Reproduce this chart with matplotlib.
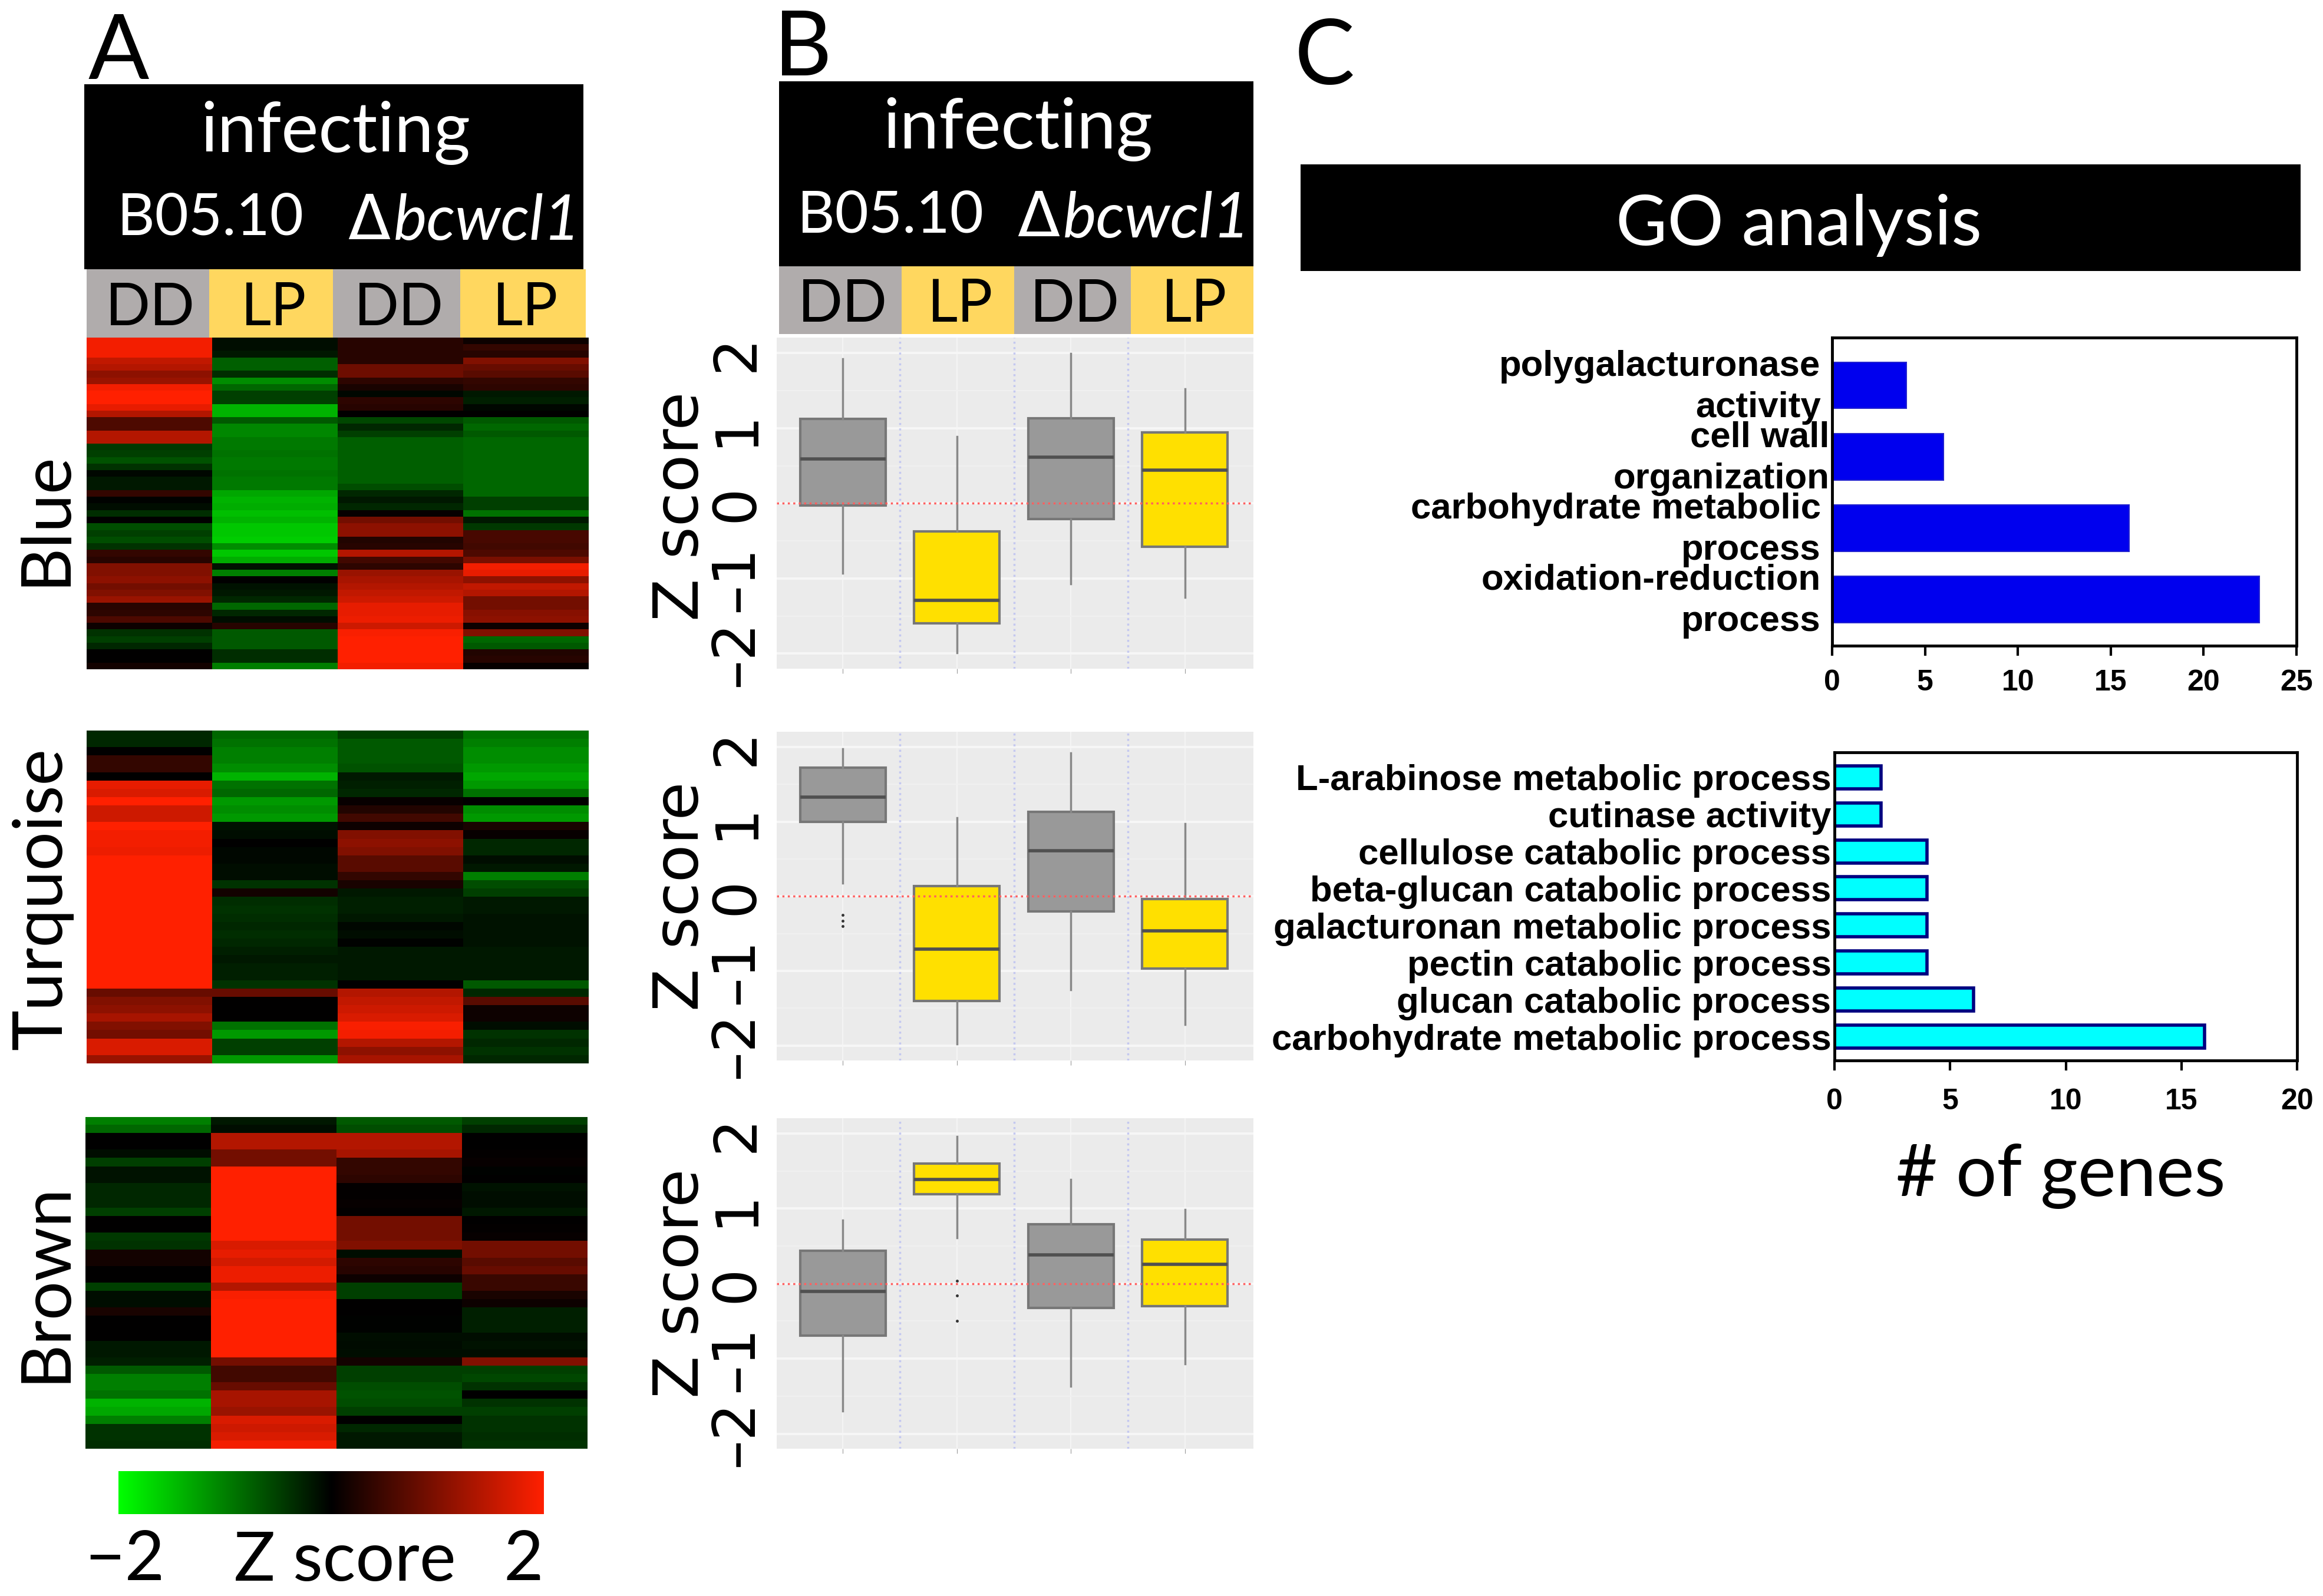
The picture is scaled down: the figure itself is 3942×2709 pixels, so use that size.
import numpy as np
import matplotlib
matplotlib.use('Agg')
import matplotlib.pyplot as plt
from matplotlib.colors import LinearSegmentedColormap
from matplotlib.patches import Rectangle
from matplotlib.transforms import ScaledTranslation

W, H = 3942, 2709

# heatmap rows, top to bottom, one list per column
blue_c1 = [1.9,1.9,1.9,1.5,1.4,1.1,1.2,1.9,2,2,1.8,1.4,.6,.6,1.4,1.4,-.45,-.5,-.65,-.4,-.05,-.2,-.2,.4,-.03,-.1,-.35,0,-.6,-.5,-.6,-.4,.4,.3,1,1,1.1,.9,1,1.2,.3,.35,.6,.1,-.4,-.5,-.3,0,0,.15]
blue_c2 = [-.1,-.1,-.2,-.75,-.75,-.35,-1.1,-.8,-.5,-.5,-1.4,-1.4,-.7,-1.05,-1.05,-.95,-.95,-.9,-.95,-.95,-.9,-.95,-.95,-1.3,-1.4,-1.35,-1.5,-1.4,-1.55,-1.55,-1.6,-1.1,-1.55,-1.35,-.15,-1,0,-.15,-.2,-.3,-.8,-.3,-.1,.3,-.7,-.7,-.7,-.35,-.35,-1]
blue_c3 = [.3,.3,.3,.3,.85,.85,.35,.2,-.05,.35,.3,0,-.55,-.3,-.5,-.75,-.75,-.75,-.75,-.75,-.75,-.75,-.6,-.3,-.2,-.3,.05,.9,1.1,1.1,.25,.3,1.4,.5,.35,1.2,1.3,1.4,1.5,1.6,1.8,1.8,1.85,1.6,1.95,2,2,2,2,1.9]
blue_c4 = [.1,.4,.3,1,.8,.7,.4,.35,-.2,-.25,-.05,0,-.7,-.8,-.7,-.8,-.8,-.8,-.8,-.8,-.8,-.8,-.8,-.8,-.5,-.5,-.9,-.2,-.45,.55,.55,.5,.6,.95,1.9,1.8,1.1,1.5,1.4,.9,.9,1.05,1.1,.1,1,-.8,-.7,.25,.3,.05]

turq_c1 = [-.3,-.3,0,.4,.4,0,1.8,1.7,2,1.6,1.6,2,1.9,1.9,1.85,2,2,2,2,2,2,2,2,2,2,2,2,2,2,2,2,.8,1,1.1,1.3,1,.9,1.7,1.7,1.2]
turq_c2 = [-.8,-.9,-1,-1,-1.1,-1.4,-.9,-.8,-1.2,-1.1,-1.2,-.15,-.1,0,-.05,-.05,-.1,-.1,-.4,.15,-.35,-.4,-.35,-.3,-.35,-.3,-.25,-.2,-.25,-.25,-.4,.8,0,0,0,-.9,-1.2,-.5,-.5,-1.2]
turq_c3 = [-.5,-.7,-.7,-.7,-.65,-.2,-.25,-.3,.05,.25,.5,.1,1,1.1,1,.7,.7,.4,.2,-.2,-.25,-.25,-.2,-.05,-.1,-.02,-.2,-.2,-.2,-.2,0,1.4,1.5,1.6,1.7,1.95,1.9,1.4,1.1,1.3]
turq_c4 = [-.9,-1,-1.1,-1.1,-1.2,-1.3,-1.2,-.9,0,-1.1,-1.2,.2,.05,-.3,-.3,-.1,-.2,-1,-.6,-.5,-.2,-.2,-.15,-.15,-.15,-.15,-.2,-.2,-.2,-.2,-.7,-.3,.7,.1,.1,-.1,-.4,-.3,-.4,-.3]

brown_c1 = [-1,-.8,0,0,-.1,-.5,-.15,-.15,-.3,-.3,-.3,-.5,0,0,-.45,-.4,.15,.15,0,0,-.5,-.1,-.1,.2,0,0,0,-.2,-.2,-.25,-.7,-1,-1,-.9,-1.4,-1.3,-1,-.4,-.4,-.35]
brown_c2 = [-.2,-.1,1.4,1.4,.9,.9,2,2,2,2,2,2,2,2,2,1.7,1.8,1.65,1.85,1.85,1.4,1.95,2,2,2,2,2,2,2,.9,.5,.5,.8,1.3,1.3,1.2,1.7,1.6,1.7,1.9]
brown_c3 = [-.7,-.6,1.4,1.4,1.3,.4,.4,.35,.02,.02,.05,.02,.9,.9,.9,1,-.1,.35,.3,.1,-.5,-.5,0,0,-.02,-.03,-.1,-.08,-.1,.15,-.5,-.5,-.6,-.65,-.6,-.5,0,-.3,-.2,-.2]
brown_c4 = [-.5,-.3,0,0,.03,.05,-.02,0,-.15,-.1,-.1,-.2,0,.02,.05,.9,.9,.7,.8,.45,.45,.2,.1,-.25,-.25,-.25,-.1,-.15,-.1,1,-.5,-.55,-.4,0,-.4,-.5,-.4,-.4,-.35,-.4]

# box stats per group: DD, LP, DD, LP
blue_q1 = [-.03,-1.6,-.21,-.58]
blue_med = [.59,-1.29,.61,.44]
blue_q3 = [1.12,-.37,1.13,.94]
blue_lo = [-.93,-1.99,-1.07,-1.25]
blue_hi = [1.92,.89,1.99,1.52]
blue_fliers = [[],[],[],[]]

turq_q1 = [1.0,-1.4,-.2,-.97]
turq_med = [1.33,-.71,.61,-.46]
turq_q3 = [1.72,.14,1.13,-.04]
turq_lo = [.18,-1.98,-1.25,-1.72]
turq_hi = [1.98,1.05,1.92,.97]
turq_fliers = [[-.25,-.33,-.4],[],[],[]]

brown_q1 = [-.69,1.19,-.32,-.3]
brown_med = [-.1,1.39,.38,.26]
brown_q3 = [.44,1.6,.79,.59]
brown_lo = [-1.7,.61,-1.37,-1.07]
brown_hi = [.85,1.96,1.39,.99]
brown_fliers = [[],[.04,-.16,-.5],[],[]]

z_ticks = [-2,-1,0,1,2]
z_labels = ['–2','–1','0','1','2']

go1_terms = ['oxidation-reduction\nprocess','carbohydrate metabolic\nprocess','cell wall\norganization','polygalacturonase\nactivity']
go1_counts = [23,16,6,4]
go2_terms = ['carbohydrate metabolic process','glucan catabolic process','pectin catabolic process','galacturonan metabolic process',
             'beta-glucan catabolic process','cellulose catabolic process','cutinase activity','L-arabinose metabolic process']
go2_counts = [16,6,4,4,4,4,2,2]

groups = ['DD','LP','DD','LP']
strip_cols = ['#B0ACAC','#FFD75F','#B0ACAC','#FFD75F']

plt.rcParams['font.family'] = ['Lato','DejaVu Sans']
fig = plt.figure(figsize=(W/100,H/100), dpi=100)
cmap = LinearSegmentedColormap.from_list('gbr',['#00FF00','#000000','#FF2000'])


def add_ax(x0,y0,x1,y1):
    return fig.add_axes([x0/W,1-y1/H,(x1-x0)/W,(y1-y0)/H])

def ftext(x,y,s,**kw):
    kw.setdefault('ha','center')
    kw.setdefault('va','center')
    fig.text(x/W,1-y/H,s,**kw)

def frect(x0,y0,x1,y1,c):
    fig.add_artist(Rectangle((x0/W,1-y1/H),(x1-x0)/W,(y1-y0)/H,transform=fig.transFigure,color=c,lw=0))

def header(x0,x1,y0,y1,y2,edges,xb,xd,yi,yb,ys):
    frect(x0,y0,x1,y1,'black')
    ftext((x0+x1)/2+3,yi,'infecting',color='white',fontsize=86)
    ftext(xb,yb,'B05.10',color='white',fontsize=71)
    ftext(xd,yb+5,'Δ',color='white',fontsize=76,ha='left',family='DejaVu Sans')
    ftext(xd+78,yb+5,'bcwcl1',color='white',fontsize=77,ha='left',style='italic')
    for i in range(4):
        frect(edges[i],y1,edges[i+1],y2,strip_cols[i])
        ftext((edges[i]+edges[i+1])/2+4,ys,groups[i],fontsize=72,color='black')

def heat(x0,y0,x1,y1,cols):
    ax = add_ax(x0,y0,x1,y1)
    ax.imshow(np.array(cols).T,cmap=cmap,vmin=-2,vmax=2,aspect='auto',interpolation='nearest')
    ax.axis('off')

def box(x0,y0,x1,y1,q1,med,q3,lo,hi,fliers,zy=.5):
    ax = add_ax(x0,y0,x1,y1)
    ax.set_facecolor('#EBEBEB')
    stats = []
    for i in range(4):
        stats.append({'q1':q1[i],'med':med[i],'q3':q3[i],'whislo':lo[i],'whishi':hi[i],'fliers':fliers[i]})
    parts = ax.bxp(stats,positions=[1,2,3,4],widths=.75,patch_artist=True,showcaps=False,
                   medianprops=dict(color='#505050',lw=4),
                   whiskerprops=dict(color='#888888',lw=2.5),
                   flierprops=dict(marker='o',ms=2.5,mfc='#333333',mec='#333333'))
    for i,b in enumerate(parts['boxes']):
        b.set_facecolor('#999999' if i%2==0 else '#FFE000')
        b.set_edgecolor('#777777')
        b.set_linewidth(3)
    ax.set_xlim(.42,4.6)
    ax.set_ylim(-2.2,2.205)
    ax.set_axisbelow(True)
    ax.set_yticks(z_ticks)
    ax.set_yticklabels(z_labels,family='DejaVu Sans',fontsize=72,rotation=90,va='center')
    ax.set_yticks([-1.5,-.5,.5,1.5],minor=True)
    ax.grid(True,which='major',axis='y',color='#F6F6F6',lw=3)
    ax.grid(True,which='major',axis='x',color='#F4F4F4',lw=1.5)
    ax.grid(True,which='minor',axis='y',color='#F0F0F0',lw=1.5)
    ax.axhline(0,color='#FF6060',ls=':',lw=2.5,zorder=5)
    for x in [1.5,2.5,3.5]:
        ax.axvline(x,color='#C4C8F0',ls=':',lw=2.5,zorder=1)
    for s in ax.spines.values():
        s.set_visible(False)
    ax.set_xticklabels([])
    ax.tick_params(axis='x',length=6,color='#999999')
    ax.tick_params(axis='y',which='major',length=0,pad=14)
    ax.tick_params(axis='y',which='minor',length=0)
    ax.set_ylabel('Z score',fontsize=76,family='DejaVu Sans')
    ax.yaxis.set_label_coords(-.137,zy)

def go_bars(x0,y0,x1,y1,terms,counts,xmax,xstep,ylim,fc,ec,lw,height,ypad,xpad):
    ax = add_ax(x0,y0,x1,y1)
    ax.barh(range(len(counts)),counts,height=height,color=fc,edgecolor=ec,linewidth=lw)
    ax.set_xlim(0,xmax)
    ax.set_ylim(*ylim)
    ax.set_xticks(range(0,xmax+1,xstep))
    ax.set_yticks(range(len(counts)))
    ax.set_yticklabels(terms,family='Liberation Sans',fontweight='bold',fontsize=44.5,linespacing=1.3,ha='right',multialignment='right')
    ax.tick_params(axis='y',length=0,pad=ypad)
    ax.tick_params(axis='x',length=12,width=3,pad=xpad)
    for t in ax.get_xticklabels():
        t.set_family('Liberation Sans')
        t.set_fontweight('bold')
        t.set_fontsize(36)
    for s in ax.spines.values():
        s.set_linewidth(3.5)
    return ax

# panel letters
ftext(201,90,'A',fontsize=110)
ftext(1362,85,'B',fontsize=110)
ftext(2248,100,'C',fontsize=110)

# A
header(143,990,143,457,573,[147,355,565,781,994],357,590,226,372,524)
heat(147,573,999,1136,[blue_c1,blue_c2,blue_c3,blue_c4])
heat(147,1240,999,1805,[turq_c1,turq_c2,turq_c3,turq_c4])
heat(145,1896,997,2459,[brown_c1,brown_c2,brown_c3,brown_c4])
ftext(78,880,'Blue',rotation=90,fontsize=84)
ftext(72,1526,'Turquoise',rotation=90,fontsize=84)
ftext(78,2177,'Brown',rotation=90,fontsize=84)

# colour key
key = add_ax(201,2497,923,2570)
key.imshow(np.linspace(-2,2,256).reshape(1,-1),cmap=cmap,vmin=-2,vmax=2,aspect='auto')
key.axis('off')
ftext(212,2650,'−2',fontsize=84)
ftext(585,2650,'Z score',fontsize=84)
ftext(888,2650,'2',fontsize=84)

# B
header(1322,2127,138,452,567,[1322,1530,1721,1919,2127],1511,1726,219,367,518)
box(1318,573,2127,1135,blue_q1,blue_med,blue_q3,blue_lo,blue_hi,blue_fliers,.49)
box(1318,1242,2127,1800,turq_q1,turq_med,turq_q3,turq_lo,turq_hi,turq_fliers)
box(1318,1898,2127,2459,brown_q1,brown_med,brown_q3,brown_lo,brown_hi,brown_fliers)

# C
frect(2207,279,3904,460,'black')
ftext(3052,382,'GO analysis',color='white',fontsize=86)
ax1 = go_bars(3109,573,3897,1096,go1_terms,go1_counts,25,5,(-.65,3.67),'#0000EE','#2020D0',1.5,.65,14,17)
ax1.yaxis.get_major_ticks()[2].set_pad(3)
# two-line labels sit a little above their bars
for t in ax1.get_yticklabels():
    t.set_transform(t.get_transform()+ScaledTranslation(0,.1,fig.dpi_scale_trans))
go_bars(3113,1277,3898,1800,go2_terms,go2_counts,20,5,(-.64,7.67),'#00FFFF','#000080',4,.62,4,22)
ftext(3497,1996,'# of genes',fontsize=88)

fig.savefig('out.png',dpi=100)
